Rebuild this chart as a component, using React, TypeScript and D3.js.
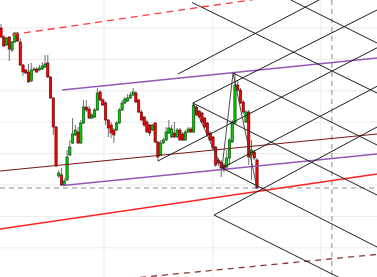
import React from 'react';
import * as d3 from 'd3';

const W = 377;
const H = 277;

// OHLC (price units), one entry per bar
const opens = [252,243,235,243,230,238,247,238,215,210,208,199,210,211,210,211,213,217,203,182,153,104,105,95,100,125,137,145,148,137,157,173,171,162,163,170,188,180,177,160,155,150,150,157,170,177,179,182,185,187,180,168,163,158,155,150,157,138,125,137,140,147,143,147,143,150,146,140,148,151,148,173,169,167,162,157,147,143,133,120,118,115,113,122,138,157,195,190,178,158,168,125,128,120];
const closes = [243,234,242,231,238,247,239,215,208,207,198,210,211,208,212,214,216,203,182,153,114,107,95,99,123,133,146,150,137,157,173,170,162,165,170,187,180,175,160,152,147,145,157,170,177,181,182,185,188,178,168,160,155,148,147,155,138,123,137,140,148,152,151,143,150,140,140,148,151,148,175,165,163,158,153,145,140,132,115,117,112,110,122,140,158,195,190,177,168,168,123,130,122,92];
const highs = [256,245,243,244,239,248,248,242,216,211,216,217,213,213,215,218,225,225,204,183,154,110,112,102,130,140,162,155,153,160,180,180,174,167,172,192,190,182,179,161,158,152,159,172,180,183,186,188,192,189,181,170,164,160,156,156,158,139,140,142,153,160,155,158,152,152,148,150,153,153,176,174,170,168,163,158,149,144,134,122,120,117,130,142,160,207,200,192,180,170,170,140,130,122];
const lows = [242,233,234,219,228,237,238,214,204,206,197,198,209,207,209,210,212,202,181,145,113,102,94,94,99,124,136,144,136,136,156,168,161,161,162,169,179,174,155,143,142,137,149,156,169,176,178,181,184,177,167,159,153,147,144,149,137,119,124,136,139,146,142,142,142,139,139,139,147,147,147,164,162,157,152,144,139,130,113,114,103,108,110,115,137,156,188,176,166,157,115,100,120,91];

// grid / reference levels
const gridPrices = [252, 220.6, 189.2, 157.8, 126.4, 95, 63.6, 32.2];
const gridBars = [37.4, 77.0, 116.2];
const lastPrice = 92;
const cursorBar = 120.2;

// drawings: [bar1, price1, bar2, price2]
type Seg = [number, number, number, number];
const redSolid: Seg = [-0.4, 51, 136.6, 106];
const redDashed: Seg = [4.0, 245.3, 136.6, 298.5];
const maroonSolid: Seg = [-0.4, 109, 136.6, 146];
const maroonDashed: Seg = [50.5, 2.6, 136.6, 25.6];
const purpleLines: Seg[] = [
  [22.2, 190, 136.6, 222],
  [22.5, 94.5, 136.6, 126],
];
const latticeRising: Seg[] = [
  [64.3, 206, 136.6, 310.5],
  [69.7, 177, 136.6, 270],
  [57.0, 119, 136.6, 232.2],
  [80.3, 112, 136.6, 193.7],
  [77.4, 65, 136.6, 153],
];
const latticeFalling: Seg[] = [
  [105.3, 280, 136.6, 237],
  [69.4, 277.5, 136.6, 187],
  [84.3, 207, 136.6, 135],
  [69.7, 177, 136.6, 85],
  [80.3, 112, 136.6, 33],
  [77.4, 65, 136.6, -16.5],
];
const zigzag: Seg[] = [
  [69.7, 177, 80.3, 112],
  [80.3, 112, 84.3, 207],
  [84.3, 207, 93.0, 92],
];

export default function App() {
  const n = opens.length;
  const x = d3.scaleLinear().domain([0, n - 1]).range([1, 257]);
  const y = d3.scaleLinear().domain([0, 280]).range([280, 0]);
  const bw = 2.3;

  const seg = (s: Seg, key: string | number, stroke: string, width: number, dash?: string) => (
    <line
      key={key}
      x1={x(s[0])}
      y1={y(s[1])}
      x2={x(s[2])}
      y2={y(s[3])}
      stroke={stroke}
      strokeWidth={width}
      strokeDasharray={dash}
    />
  );

  return (
    <svg
      width={W}
      height={H}
      style={{ position: 'absolute', left: 0, top: 0, display: 'block', background: '#fff' }}
    >
      <g>
        {gridPrices.map((p, i) => (
          <line key={'gh' + i} x1={0} x2={W} y1={y(p)} y2={y(p)} stroke="#ebebeb" strokeWidth={1} />
        ))}
        {gridBars.map((b, i) => (
          <line key={'gv' + i} x1={x(b)} x2={x(b)} y1={0} y2={H} stroke="#ebebeb" strokeWidth={1} />
        ))}
      </g>
      <line x1={0} x2={W} y1={y(lastPrice)} y2={y(lastPrice)} stroke="#8a8a8a" strokeWidth={1} strokeDasharray="5,4" />
      <line x1={x(cursorBar)} x2={x(cursorBar)} y1={0} y2={H} stroke="#8a8a8a" strokeWidth={1} strokeDasharray="5,4" />
      <g>
        {opens.map((o, i) => {
          const c = closes[i];
          const up = c >= o;
          const cx = x(i);
          const top = y(Math.max(o, c));
          const bot = y(Math.min(o, c));
          return (
            <g key={'c' + i}>
              <line x1={cx} x2={cx} y1={y(highs[i])} y2={y(lows[i])} stroke="#6e6e6e" strokeWidth={1} />
              <rect
                x={cx - bw / 2}
                y={top}
                width={bw}
                height={Math.max(1, bot - top)}
                fill={up ? '#00cc00' : '#ff0000'}
                stroke={up ? '#0a3a0a' : '#4a0000'}
                strokeWidth={0.6}
              />
            </g>
          );
        })}
      </g>
      <g>
        {seg(maroonSolid, 'ms', '#7a1414', 1.2)}
        {seg(maroonDashed, 'md', '#8e3434', 1.3, '6,5')}
        {seg(redSolid, 'rs', '#ff2020', 1.3)}
        {seg(redDashed, 'rd', '#ff3b3b', 1.3, '7,5')}
        {purpleLines.map((s, i) => seg(s, 'p' + i, '#9457b8', 1.3))}
        {latticeRising.map((s, i) => seg(s, 'lr' + i, '#1e1e1e', 1))}
        {latticeFalling.map((s, i) => seg(s, 'lf' + i, '#1e1e1e', 1))}
        {zigzag.map((s, i) => seg(s, 'z' + i, '#3a3a3a', 0.9))}
      </g>
    </svg>
  );
}
